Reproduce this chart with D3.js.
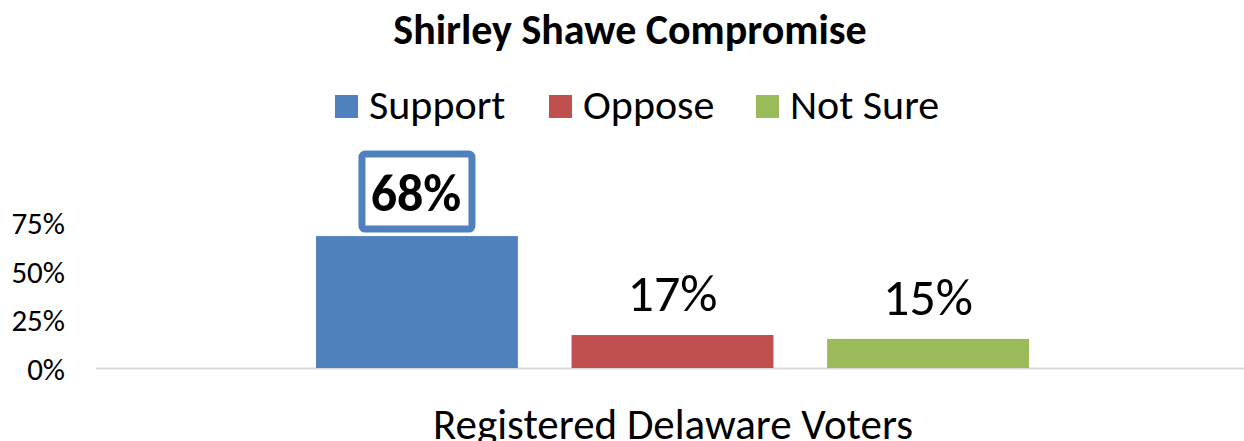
<!DOCTYPE html>
<html>
<head>
<meta charset="utf-8">
<script src="https://cdn.jsdelivr.net/npm/d3@7"></script>
<style>
  body { margin: 0; background: #fff; }
  text { font-family: Carlito, Calibri, Lato, "Open Sans", sans-serif; fill: #000; }
</style>
</head>
<body>
<svg id="canvas" width="1244" height="441"></svg>
<script>
let title = 'Shirley Shawe Compromise'
let category = 'Registered Delaware Voters'
let seriesNames = ['Support', 'Oppose', 'Not Sure']
let seriesValues = [68, 17, 15]
let seriesColors = ['#4f81bd', '#c0504d', '#9bbb59']
let yTicks = [0, 25, 50, 75]

let canvas = d3.select('#canvas')

let yScale = d3.scaleLinear()
                .domain([0, 100])
                .range([368, 174])

// one category, three series side by side
let xScale = d3.scaleBand()
                .domain(seriesNames)
                .range([316, 1029])
                .paddingInner(0.21)
                .paddingOuter(0)

// title
canvas.append('text')
        .attr('x', 630)
        .attr('y', 44)
        .attr('text-anchor', 'middle')
        .style('font-weight', 'bold')
        .style('font-size', '42px')
        .text(title)

// legend
let legendX = [335, 549, 756]
let legend = canvas.selectAll('.legend')
                    .data(seriesNames)
                    .enter()
                    .append('g')
                    .attr('class', 'legend')
                    .attr('transform', (d, i) => 'translate(' + legendX[i] + ', 95)')

legend.append('rect')
        .attr('width', 23)
        .attr('height', 23)
        .attr('fill', (d, i) => seriesColors[i])

legend.append('text')
        .attr('x', 34)
        .attr('y', 24)
        .style('font-size', '42px')
        .text((d) => d)

// y axis labels (no line, no ticks)
let yAxis = d3.axisLeft(yScale)
                .tickValues(yTicks)
                .tickFormat((d) => d + '%')
                .tickSize(0)
                .tickPadding(0)

let yAxisG = canvas.append('g')
                    .attr('transform', 'translate(65, 0)')
                    .call(yAxis)
yAxisG.select('.domain').remove()
yAxisG.selectAll('text')
        .attr('dy', '0.36em')
        .style('font-size', '31px')
        .style('font-family', 'Carlito, Calibri, Lato, "Open Sans", sans-serif')

// baseline
canvas.append('line')
        .attr('x1', 96)
        .attr('x2', 1244)
        .attr('y1', yScale(0) + 0.5)
        .attr('y2', yScale(0) + 0.5)
        .attr('stroke', '#d9d9d9')
        .attr('stroke-width', 2)

// bars
canvas.selectAll('.bar')
        .data(seriesValues)
        .enter()
        .append('rect')
        .attr('class', 'bar')
        .attr('x', (d, i) => xScale(seriesNames[i]))
        .attr('y', (d) => yScale(d))
        .attr('width', xScale.bandwidth())
        .attr('height', (d) => yScale(0) - yScale(d))
        .attr('fill', (d, i) => seriesColors[i])

// data labels
seriesValues.forEach((v, i) => {
    let cx = xScale(seriesNames[i]) + xScale.bandwidth() / 2
    if (i === 0) {
        canvas.append('rect')
                .attr('x', cx - 55)
                .attr('y', yScale(v) - 82)
                .attr('width', 110)
                .attr('height', 75)
                .attr('rx', 3)
                .attr('fill', '#fff')
                .attr('stroke', seriesColors[0])
                .attr('stroke-width', 7)
        canvas.append('text')
                .attr('x', cx - 1)
                .attr('y', yScale(v) - 25)
                .attr('text-anchor', 'middle')
                .style('font-weight', 'bold')
                .style('font-size', '52px')
                .text(v + '%')
    } else {
        canvas.append('text')
                .attr('x', cx)
                .attr('y', yScale(v) - 24)
                .attr('text-anchor', 'middle')
                .style('font-size', '52px')
                .text(v + '%')
    }
})

// category label
canvas.append('text')
        .attr('x', 673)
        .attr('y', 439)
        .attr('text-anchor', 'middle')
        .style('font-size', '43px')
        .text(category)
</script>
</body>
</html>
